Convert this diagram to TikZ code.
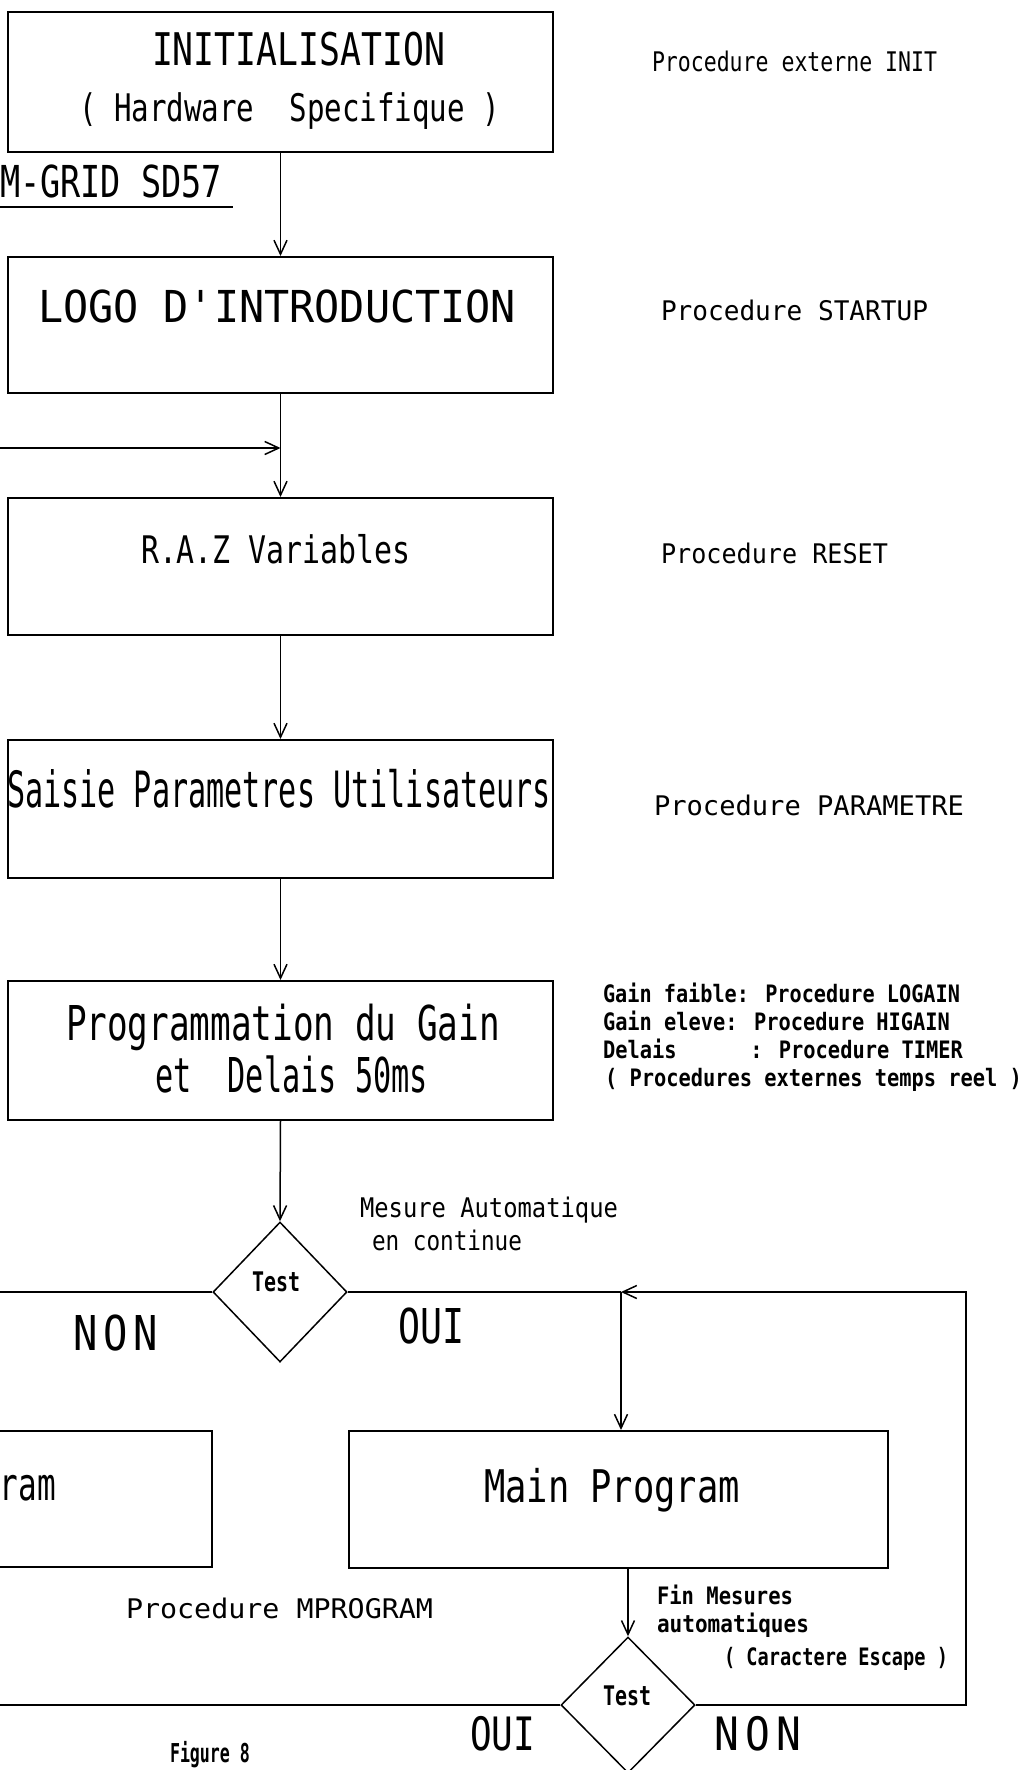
\documentclass[tikz,border=0pt]{standalone}
\usepackage{fontspec}
\usepackage{graphicx}
\usetikzlibrary{arrows.meta,shapes.geometric}
\newfontfamily\mono{DejaVu Sans Mono}
\newcommand\fw[3]{\resizebox{#1pt}{\height}{\fontsize{#2}{#2}\selectfont\mono #3}}
\newcommand\fwb[3]{\resizebox{#1pt}{\height}{\fontsize{#2}{#2}\selectfont\mono\bfseries #3}}
\tikzset{
  box/.style={draw, line width=2pt, rectangle, inner sep=0pt, minimum width=545pt},
  dia/.style={draw, line width=1.5pt, diamond, inner sep=0pt},
  ln/.style={line width=1.5pt},
  arr/.style={line width=1.5pt, -{Straight Barb[length=14pt,width=13pt,line width=1.5pt]}},
  txt/.style={inner sep=0pt, outer sep=0pt, anchor=base west},
  txte/.style={inner sep=0pt, outer sep=0pt, anchor=base east}
}
\begin{document}
\begin{tikzpicture}[x=1pt,y=-1pt]
\useasboundingbox (0,0) rectangle (1025,1770);
\clip (0,0) rectangle (1025,1770);
\fill[white] (0,0) rectangle (1025,1770);
% boxes
\node[box, minimum height=140pt] (b1) at (280.5,82) {};
\node[box, minimum height=136pt] (b2) at (280.5,325) {};
\node[box, minimum height=137pt] (b3) at (280.5,566.5) {};
\node[box, minimum height=138pt] (b4) at (280.5,809) {};
\node[box, minimum height=139pt] (b5) at (280.5,1050.5) {};
\node[box, minimum width=232pt, minimum height=136pt] (lp) at (96,1499) {};
\node[box, minimum width=539pt, minimum height=137pt] (mp) at (618.5,1499.5) {};
% diamonds
\node[dia, minimum width=134pt, minimum height=140pt] (d1) at (280,1292) {};
\node[dia, minimum width=134pt, minimum height=136pt] (d2) at (628,1705) {};
% coordinates
\coordinate (lin) at (0,448);
\coordinate (nonL) at (0,1292);
\coordinate (j1) at (621,1292);
\coordinate (r1) at (966,1292);
\coordinate (r2) at (966,1705);
\coordinate (ouiL) at (0,1705);
% connectors
\draw[arr] (b1.south) -- (b2.north);
\draw[arr] (lin) -- (lin -| b2.south);
\draw[arr] (b2.south) -- (b3.north);
\draw[arr] (b3.south) -- (b4.north);
\draw[arr] (b4.south) -- (b5.north);
\draw[arr] (b5.south) -- (d1.north);
\draw[ln] (d1.west) -- (nonL);
\draw[ln] (d1.east) -- (j1);
\draw[arr] (d2.east) -- (r2) -- (r1) -- (j1);
\draw[arr] (j1) -- (j1 |- mp.north);
\draw[arr] (d2.north |- mp.south) -- (d2.north);
\draw[ln] (d2.west) -- (ouiL);
% box texts
\node[txt] (t1) at (152,65) {\fw{293}{45}{INITIALISATION}};
\node[txt] (t2) at (79,121) {\fw{421}{38}{( Hardware\ \ Specifique )}};
\node[txt] (t3) at (0,197) {\fw{222}{44}{M-GRID SD57}};
\draw[line width=2pt] (0,207) -- (233,207);
\node[txt] (t4) at (38,322) {\fw{478}{44}{LOGO D'INTRODUCTION}};
\node[txt] (t5) at (141,563) {\fw{270}{38}{R.A.Z Variables}};
\node[txt] (t6) at (7,807) {\fw{544}{50}{Saisie Parametres Utilisateurs}};
\node[txt] (t7) at (66,1040) {\fw{434}{48}{Programmation du Gain}};
\node[txt] (t8) at (155,1092) {\fw{273}{48}{et\ \ Delais 50ms}};
\node[txt] (t9) at (484,1502) {\fw{256}{45}{Main Program}};
\node[txte] (t10) at (56,1500) {\fw{56}{45}{ram}};
\node[txt] (t11) at (73,1350) {\fw{85}{48}{N\hspace{7pt}O\hspace{7pt}N}};
\node[txt] (t12) at (398,1343) {\fw{66}{48}{OUI}};
\node[txt] (t13) at (252,1291) {\fwb{48}{27}{Test}};
\node[txt] (t14) at (470,1750) {\fw{65}{46}{OUI}};
\node[txt] (t15) at (714,1750) {\fw{87}{46}{N\hspace{7pt}O\hspace{7pt}N}};
\node[txt] (t16) at (603,1705) {\fwb{48}{27}{Test}};
% annotations
\node[txt] (p1) at (652,71) {\fw{285}{27}{Procedure externe INIT}};
\node[txt] (p2) at (661,320) {\fw{267}{27}{Procedure STARTUP}};
\node[txt] (p3) at (661,563) {\fw{227}{27}{Procedure RESET}};
\node[txt] (p4) at (654,815) {\fw{310}{27}{Procedure PARAMETRE}};
\node[txt] (p5) at (126,1618) {\fw{307}{27}{Procedure MPROGRAM}};
\node[txt] (m1) at (360,1217) {\fw{258}{27}{Mesure Automatique}};
\node[txt] (m2) at (372,1250) {\fw{150}{27}{en continue}};
\node[txt] (g1) at (603,1002) {\fwb{357}{24}{Gain faible: Procedure LOGAIN}};
\node[txt] (g2) at (603,1030) {\fwb{347}{24}{Gain eleve: Procedure HIGAIN}};
\node[txt] (g3) at (603,1058) {\fwb{360}{24}{Delais\ \ \ \ \ \ : Procedure TIMER}};
\node[txt] (g4) at (605,1086) {\fwb{417}{24}{( Procedures externes temps reel )}};
\node[txt] (f1) at (657,1604) {\fwb{136}{24}{Fin Mesures}};
\node[txt] (f2) at (657,1632) {\fwb{152}{24}{automatiques}};
\node[txt] (f3) at (724,1665) {\fwb{224}{24}{( Caractere Escape )}};
\node[txt] (fig) at (170,1762) {\fwb{80}{26}{Figure 8}};
\end{tikzpicture}
\end{document}
